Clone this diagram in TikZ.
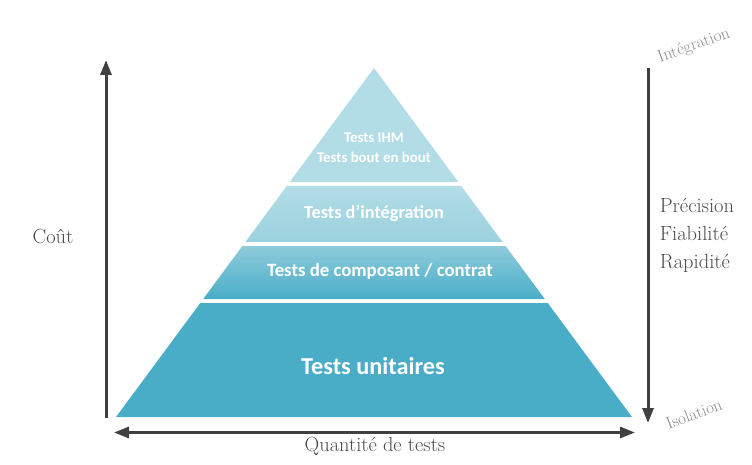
\documentclass[tikz,border=0pt]{standalone}
\usepackage{fontspec}
\usepackage{xcolor}
\newfontfamily\pyramidfont{Carlito}
\usetikzlibrary{arrows.meta}

\definecolor{LevelLight}{HTML}{B2DDE6}
\definecolor{LevelMid}{HTML}{9BD1DE}
\definecolor{LevelMidB}{HTML}{8ECBDA}
\definecolor{LevelDark}{HTML}{4AADC8}
\definecolor{AxisGray}{HTML}{404040}
\definecolor{TextGray}{HTML}{4A4A4A}
\definecolor{TagGray}{HTML}{8A8A8A}

\begin{document}
\begin{tikzpicture}[x=1pt,y=-1pt,line width=3pt]
\useasboundingbox (0,0) rectangle (752,465);


% 1
\fill[LevelLight] (374,68) -- (458.3,182) -- (289.7,182) -- cycle;
\shade[top color=LevelLight,bottom color=LevelMid] (286.8,186) -- (461.2,186) -- (502.6,242) -- (245.4,242) -- cycle;
\shade[top color=LevelMidB,bottom color=LevelDark] (242.4,246) -- (505.6,246) -- (544.8,299) -- (203.2,299) -- cycle;
\fill[LevelDark] (200.3,303) -- (547.7,303) -- (632,417) -- (116,417) -- cycle;

\node[text=white,align=center,font=\pyramidfont\bfseries\fontsize{14.8}{20}\selectfont] (LevelA) at (374,148) {Tests IHM\\Tests bout en bout};
\node[text=white,font=\pyramidfont\bfseries\fontsize{18.3}{21}\selectfont] (LevelB) at (374,213) {Tests d’intégration};
\node[text=white,font=\pyramidfont\bfseries\fontsize{18.8}{21}\selectfont] (LevelC) at (380,271) {Tests de composant / contrat};
\node[text=white,font=\pyramidfont\bfseries\fontsize{24.3}{28}\selectfont] (LevelD) at (373,366) {Tests unitaires};



% 2
\coordinate (CostA) at (106,418);
\coordinate (CostB) at (106,60);
\coordinate (ScopeA) at (648,68);
\coordinate (ScopeB) at (648,423);
\coordinate (AmountA) at (114,432.5);
\coordinate (AmountB) at (635,432.5);

\draw[-{Triangle[length=15pt,width=11pt]},draw=AxisGray] (CostA) to (CostB);
\draw[-{Triangle[length=15pt,width=11pt]},draw=AxisGray] (ScopeA) to (ScopeB);
\draw[{Triangle[length=15pt,width=11pt]}-{Triangle[length=15pt,width=11pt]},draw=AxisGray] (AmountA) to (AmountB);

\node[text=TextGray,font=\fontsize{20.5}{24}\selectfont] (CostLabel) at (53,236) {Coût};
\node[text=TextGray,font=\fontsize{20.4}{24}\selectfont] (AmountLabel) at (375,446) {Quantité de tests};
\node[text=TextGray,align=left,anchor=west,font=\fontsize{20.5}{28}\selectfont] (ScopeLabel) at (655,235) {Précision\\Fiabilité\\Rapidité};

\node[text=TagGray,rotate=20,font=\fontsize{17}{20}\selectfont] (ScopeTop) at (694,46) {Intégration};
\node[text=TagGray,rotate=21,font=\fontsize{17}{20}\selectfont] (ScopeBottom) at (694,414) {Isolation};


\end{tikzpicture}
\end{document}
